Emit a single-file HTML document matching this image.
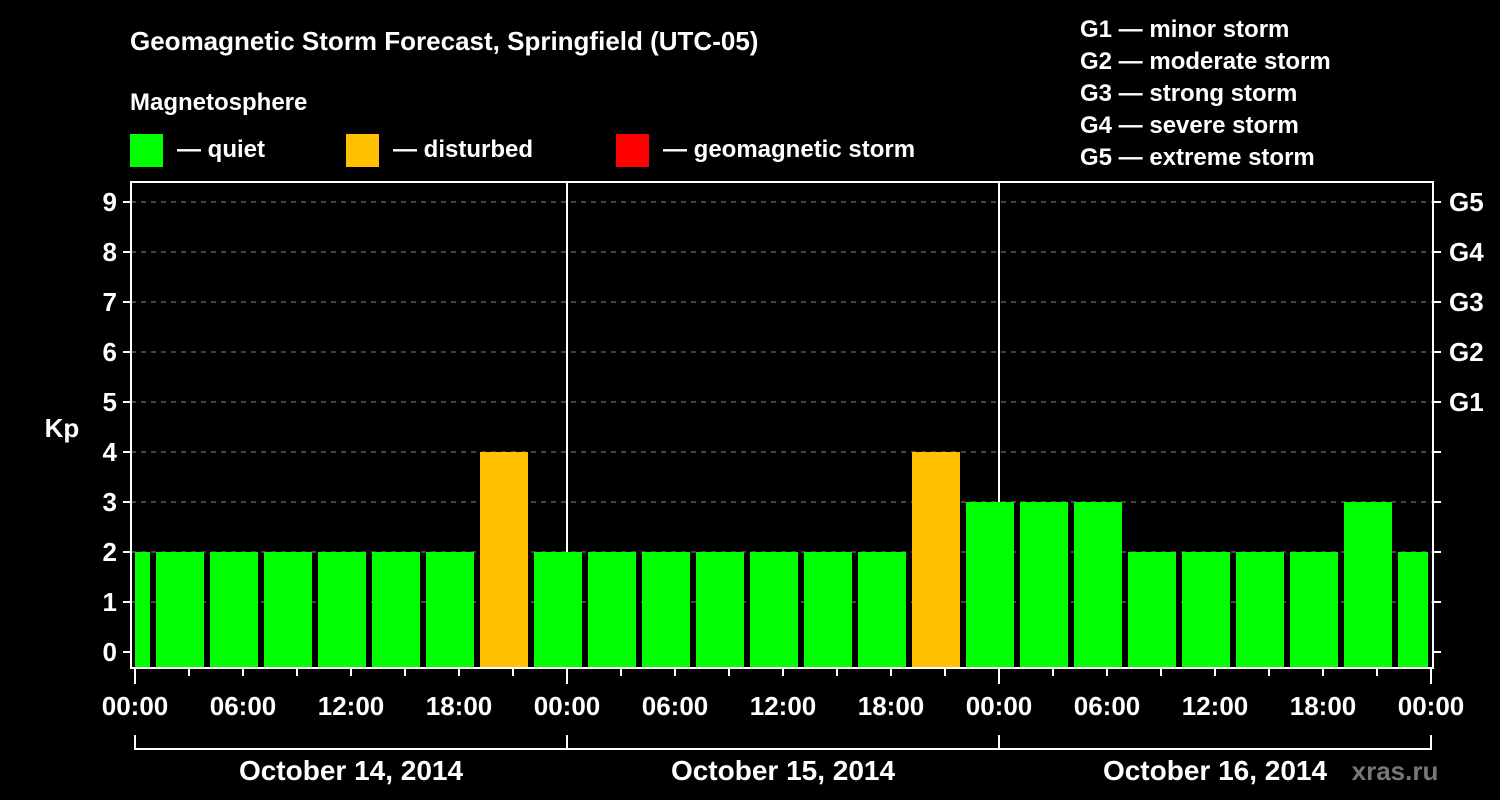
<!DOCTYPE html>
<html><head><meta charset="utf-8"><style>
body{margin:0;background:#000;}
svg{display:block;font-family:"Liberation Sans",sans-serif;font-weight:bold;}
</style></head><body>
<svg id="chart" width="1500" height="800" viewBox="0 0 1500 800">
<rect width="1500" height="800" fill="#000"/>
<text x="130" y="50" fill="#fff" font-size="26">Geomagnetic Storm Forecast, Springfield (UTC-05)</text>
<text x="130" y="110" fill="#fff" font-size="24">Magnetosphere</text>
<g><rect x="130" y="134" width="33" height="33" fill="#00ff00"/><text x="177" y="157" fill="#fff" font-size="24">— quiet</text></g>
<g><rect x="346" y="134" width="33" height="33" fill="#ffc000"/><text x="393" y="157" fill="#fff" font-size="24">— disturbed</text></g>
<g><rect x="616" y="134" width="33" height="33" fill="#ff0000"/><text x="663" y="157" fill="#fff" font-size="24">— geomagnetic storm</text></g>
<g fill="#fff" font-size="24">
<text x="1080" y="37">G1 — minor storm</text>
<text x="1080" y="69">G2 — moderate storm</text>
<text x="1080" y="101">G3 — strong storm</text>
<text x="1080" y="133">G4 — severe storm</text>
<text x="1080" y="165">G5 — extreme storm</text>
</g>
<g id="grid"></g>
<g id="bars"></g>
<g id="axes"></g>
<text x="62" y="437" fill="#fff" font-size="26" text-anchor="middle">Kp</text>
<text x="1395" y="780" fill="#777" font-size="26" text-anchor="middle">xras.ru</text>
</svg>
<script>
const hours = [-0.5,2.5,5.5,8.5,11.5,14.5,17.5,20.5,23.5,26.5,29.5,32.5,35.5,38.5,41.5,44.5,47.5,50.5,53.5,56.5,59.5,62.5,65.5,68.5,71.5];
const kpValues = [2,2,2,2,2,2,2,4,2,2,2,2,2,2,2,4,3,3,3,2,2,2,2,3,2];
const yTicks = [0,1,2,3,4,5,6,7,8,9];
const gLabels = ["G1","G2","G3","G4","G5"];
const gLevels = [5,6,7,8,9];
const xTickLabels = ["00:00","06:00","12:00","18:00","00:00","06:00","12:00","18:00","00:00","06:00","12:00","18:00","00:00"];
const dayLabels = ["October 14, 2014","October 15, 2014","October 16, 2014"];

const NS="http://www.w3.org/2000/svg";
const X0=135, PX_H=18, Y0=652, PX_KP=50, LEFT=131, RIGHT=1433, TOP=182, BOT=668;
const xs=h=>X0+h*PX_H, ys=k=>Y0-k*PX_KP;
function mk(tag,attrs,parent){const e=document.createElementNS(NS,tag);for(const k in attrs)e.setAttribute(k,attrs[k]);parent.appendChild(e);return e;}
const grid=document.getElementById('grid'), bars=document.getElementById('bars'), axes=document.getElementById('axes');

yTicks.forEach(k=>{
  if(k>0){const l=mk('line',{x1:LEFT,x2:RIGHT,y1:ys(k),y2:ys(k),stroke:'#888','stroke-dasharray':'5,5','stroke-width':1},grid);
  
  }
  const t=mk('text',{x:117,y:ys(k)+9,fill:'#fff','font-size':26,'text-anchor':'end'},axes);t.textContent=k;
  
  
  mk('line',{x1:LEFT-8,x2:LEFT,y1:ys(k),y2:ys(k),stroke:'#fff','stroke-width':2},axes);
  mk('line',{x1:RIGHT,x2:RIGHT+8,y1:ys(k),y2:ys(k),stroke:'#fff','stroke-width':2},axes);
});
gLabels.forEach((g,i)=>{
  const t=mk('text',{x:1449,y:ys(gLevels[i])+9,fill:'#fff','font-size':26},axes);t.textContent=g;
  
  
});
// day separators
[24,48].forEach(h=>{mk('line',{x1:xs(h),x2:xs(h),y1:TOP,y2:BOT,stroke:'#fff','stroke-width':2},grid);});

hours.forEach((h,i)=>{
  const k=kpValues[i];
  let x1=xs(h)-24, x2=xs(h)+24;
  x1=Math.max(x1,X0); x2=Math.min(x2,xs(72)-3);
  const c=k>=5?'#ff0000':(k>=4?'#ffc000':'#00ff00');
  const r=mk('rect',{x:x1,y:ys(k),width:x2-x1,height:BOT-ys(k),fill:c},bars);
  
  
});

const frame=mk('rect',{x:LEFT,y:TOP,width:RIGHT-LEFT,height:BOT-TOP,fill:'none',stroke:'#fff','stroke-width':2},axes);



for(let h=0;h<=72;h+=3){
  const major=h%24===0;
  mk('line',{x1:xs(h),x2:xs(h),y1:BOT,y2:BOT+(major?16:8),stroke:'#fff','stroke-width':2},axes);
}
xTickLabels.forEach((lab,i)=>{
  const t=mk('text',{x:xs(i*6),y:715,fill:'#fff','font-size':26,'text-anchor':'middle'},axes);t.textContent=lab;
  
  
});
mk('path',{d:`M${xs(0)},735 V749 H${xs(72)} V735 M${xs(24)},735 V749 M${xs(48)},735 V749`,stroke:'#fff','stroke-width':2,fill:'none'},axes);
dayLabels.forEach((d,i)=>{
  const t=mk('text',{x:xs(i*24+12),y:780,fill:'#fff','font-size':28,'text-anchor':'middle'},axes);t.textContent=d;
  
  
});
</script>
</body></html>
